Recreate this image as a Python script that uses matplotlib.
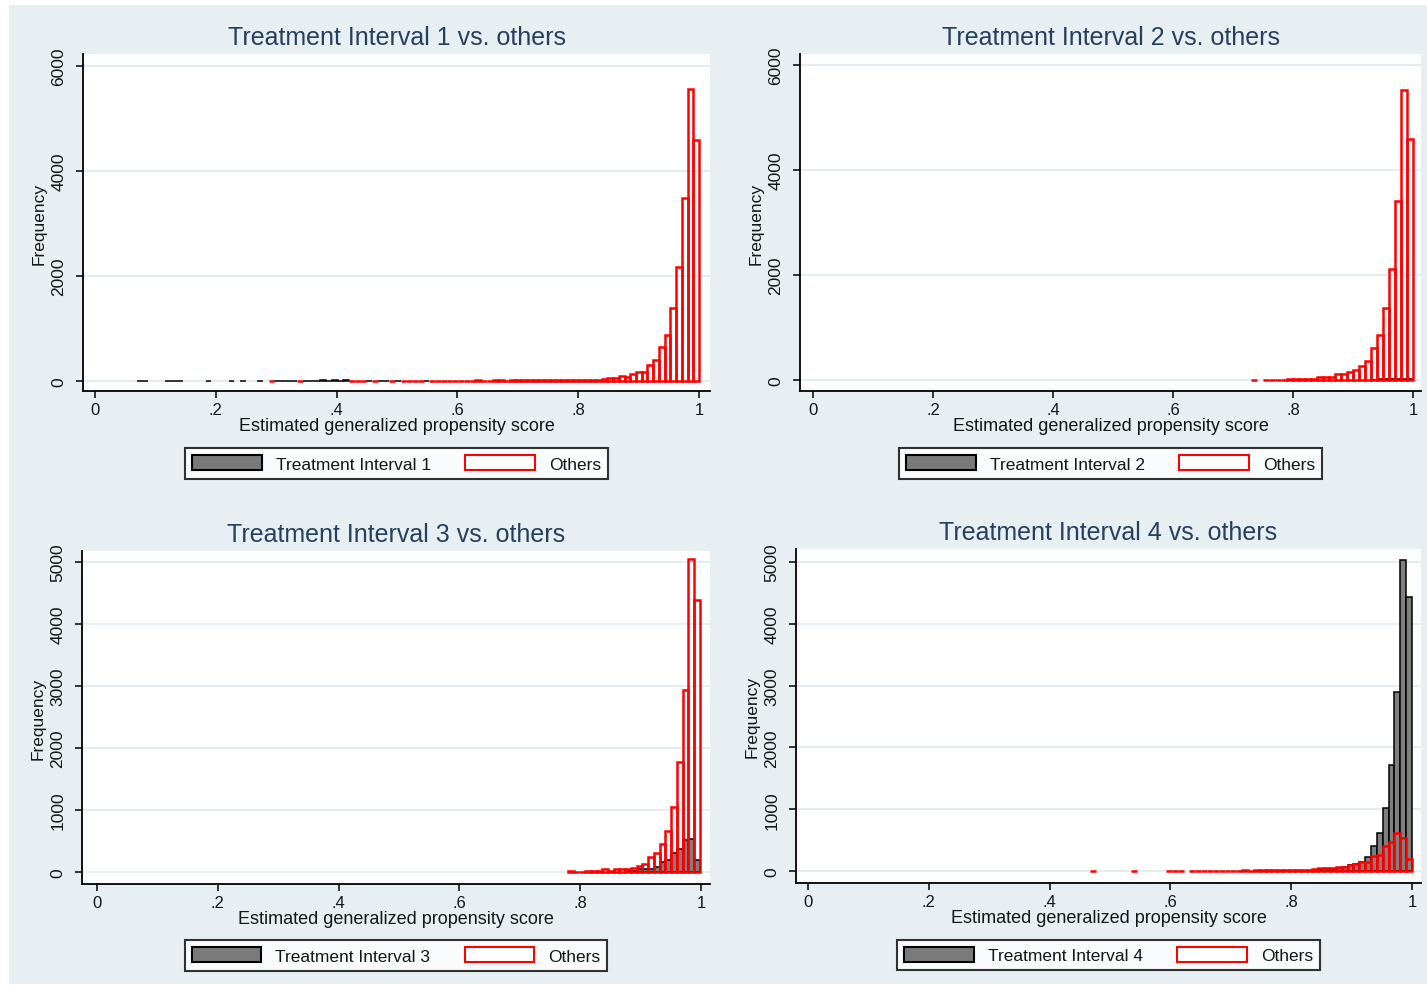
import numpy as np
import matplotlib.pyplot as plt
from matplotlib.patches import Patch, Rectangle

plt.rcParams['font.family'] = ['Liberation Sans', 'DejaVu Sans']

# ==============================
# 1. Data (histogram counts)
# ==============================
# Panel 1: bins start at 0.069, width 0.0095
p1_start, p1_width = 0.069, 0.0095
p1_treat = [4, 3, 0, 0, 0, 4, 6, 3, 0, 0, 0, 0, 5, 0, 0, 0, 4, 0, 5, 0,
            0, 6, 0, 0, 5, 7, 6, 8, 0, 7, 9, 8, 10, 9, 11, 8, 10, 0, 0, 0,
            9, 0, 8, 7, 0, 6, 0, 0, 0, 0, 5,
            0, 0, 0, 0, 0, 0, 0, 0, 0, 0, 0, 0, 0, 0, 0, 0, 0, 0, 0, 0,
            0, 0, 0, 0, 0, 0, 0, 0, 0, 0, 0, 0, 0, 0, 0, 0, 0, 0, 0, 0,
            0, 0, 0, 0, 0, 0, 0]
p1_others = [0, 0, 0, 0, 0, 0, 0, 0, 0, 0, 0, 0, 0, 0, 0, 0, 0, 0, 0, 0,
             0, 0, 0, 3, 0, 0, 0, 0, 4, 0, 0, 0, 0, 0, 0, 0, 0, 3, 5, 4,
             0, 4, 0, 0, 5, 0, 4, 6, 5, 7, 0,
             6, 5, 8, 7, 6, 9, 8, 7, 10, 9, 8, 11, 10, 9, 12, 11, 13, 12, 14, 13,
             15, 16, 15, 18, 17, 20, 22, 24, 26, 28,
             48, 52, 50, 95, 82, 139, 178, 178, 303, 393, 645, 885, 1392, 2180,
             3490, 5563, 4600]

# Panel 2: bins start at 0.73, width 0.01
p2_start, p2_width = 0.73, 0.01
p2_treat = [0, 0, 0, 0, 0, 0, 0, 0, 0, 0, 0, 0, 0, 0, 0, 0, 0, 0, 0, 0,
            5, 10, 20, 15, 25, 20, 10]
p2_others = [5, 0, 6, 8, 7, 9, 10, 12, 14, 16, 20, 60, 63, 66, 110, 110,
             147, 190, 272, 362, 615, 857, 1365, 2115, 3415, 5520, 4590]

# Panel 3: bins start at 0.7795, width 0.0095
p3_start, p3_width = 0.7795, 0.0095
p3_treat = [0, 0, 0, 0, 0, 0, 0, 0, 0, 0, 10, 20, 40, 50, 54, 80, 160, 194,
            302, 370, 520, 530, 194]
p3_others = [8, 6, 7, 9, 10, 12, 50, 18, 45, 52, 54, 58, 92, 124, 237, 302,
             447, 662, 1055, 1766, 2940, 5040, 4394]

# Panel 4: bins start at 0.4665, width 0.0097
p4_start, p4_width = 0.4665, 0.0097
p4_treat = [0, 0, 0, 0, 0, 0, 0, 0, 0, 0, 0, 0, 0, 0, 0, 0, 0, 0, 0, 0,
            0, 0, 0, 0, 0, 0, 0, 0, 0, 0, 0, 0, 0, 0, 0, 0, 0, 0,
            20, 25, 30, 35, 50, 60, 100, 120, 150, 222, 405, 610, 1015, 1715,
            2901, 5032, 4433]
p4_others = [5, 0, 0, 0, 0, 0, 0, 4, 0, 0, 0, 0, 0, 5, 6, 4, 0,
             5, 6, 5, 7, 6, 8, 7, 6, 8, 9, 8, 10, 9, 11, 10, 12, 11, 13, 14, 15, 16,
             40, 43, 45, 43, 70, 70, 105, 113, 140, 150, 240, 260, 405, 474, 620,
             529, 189]

x_ticks = [0, 0.2, 0.4, 0.6, 0.8, 1]
x_ticklabels = ['0', '.2', '.4', '.6', '.8', '1']

# ==============================
# 2. Styling
# ==============================
W, H = 1427, 987
BG = '#E8EFF2'
GRID = '#E2EAEE'
TITLE_COLOR = '#25405F'
TEXT = '#151515'

fig = plt.figure(figsize=(W / 100, H / 100), dpi=100)
fig.patch.set_facecolor('white')
fig.patches.append(Rectangle((9 / W, 2 / H), 1 - 9 / W, 1 - 8 / H,
                             transform=fig.transFigure, facecolor=BG,
                             edgecolor='none', zorder=-10))


def px_axes(left, top, right, bottom):
    return fig.add_axes([left / W, 1 - bottom / H, (right - left) / W, (bottom - top) / H])


def draw_panel(box, xlim, ylim, yticks, start, width, treat, others, k):
    ax = px_axes(*box)
    ax.set_facecolor('white')

    treat = np.array(treat, dtype=float)
    others = np.array(others, dtype=float)
    centers = start + width * (np.arange(len(treat)) + 0.5)

    m = treat > 0
    ax.bar(centers[m], treat[m], width=width, color='#808080',
           edgecolor='black', linewidth=1.1, zorder=2)
    m = others > 0
    ax.bar(centers[m], others[m], width=width, facecolor='none',
           edgecolor='red', linewidth=1.8, zorder=3)

    ax.set_xlim(*xlim)
    ax.set_ylim(*ylim)
    ax.set_xticks(x_ticks)
    ax.set_xticklabels(x_ticklabels)
    ax.set_yticks(yticks)
    ax.set_yticklabels([str(v) for v in yticks], rotation=90, va='center')

    ax.yaxis.grid(True, color=GRID, linewidth=1.2)
    ax.set_axisbelow(True)
    for s in ['top', 'right']:
        ax.spines[s].set_visible(False)
    for s in ['left', 'bottom']:
        ax.spines[s].set_linewidth(1.3)
    ax.tick_params(axis='both', length=5, width=1.1, colors='black',
                   labelcolor=TEXT)
    ax.tick_params(axis='y', pad=7, labelsize=12.5)
    ax.tick_params(axis='x', pad=3, labelsize=12)

    ax.set_xlabel('Estimated generalized propensity score', fontsize=13, color=TEXT)
    ax.xaxis.set_label_coords(0.5, -0.078)
    ax.set_ylabel('Frequency', fontsize=12.5, color=TEXT)
    ax.yaxis.set_label_coords(-0.058, 0.5)

    ax.text(0.5, 1.05, 'Treatment Interval %d vs. others' % k, transform=ax.transAxes,
            ha='center', va='center', fontsize=18, color=TITLE_COLOR)

    handles = [Patch(facecolor='#7a7a7a', edgecolor='black', linewidth=1.5),
               Patch(facecolor='white', edgecolor='red', linewidth=1.5)]
    leg = ax.legend(handles, ['Treatment Interval %d' % k, 'Others'], ncol=2,
                    loc='center', bbox_to_anchor=(0.5, -0.215), fontsize=12.5,
                    frameon=True, fancybox=False, edgecolor='black',
                    handlelength=4.0, handleheight=0.95, handletextpad=0.8,
                    columnspacing=2.0, borderpad=0.4)
    leg.get_frame().set_linewidth(1.5)
    for t in leg.get_texts():
        t.set_color(TEXT)
    return ax


# ==============================
# 3. Panels
# ==============================
draw_panel((83, 55, 710, 392), (-0.0199, 1.018), (-190, 6229), [0, 2000, 4000, 6000],
           p1_start, p1_width, p1_treat, p1_others, 1)
draw_panel((800, 55, 1421, 392), (-0.0217, 1.0133), (-210, 6210), [0, 2000, 4000, 6000],
           p2_start, p2_width, p2_treat, p2_others, 2)
draw_panel((82, 552, 710, 885), (-0.0248, 1.0149), (-194, 5177),
           [0, 1000, 2000, 3000, 4000, 5000],
           p3_start, p3_width, p3_treat, p3_others, 3)
draw_panel((796, 550, 1421, 884), (-0.0199, 1.0149), (-194, 5210),
           [0, 1000, 2000, 3000, 4000, 5000],
           p4_start, p4_width, p4_treat, p4_others, 4)

fig.savefig('out.png', dpi=100, facecolor=fig.get_facecolor())
